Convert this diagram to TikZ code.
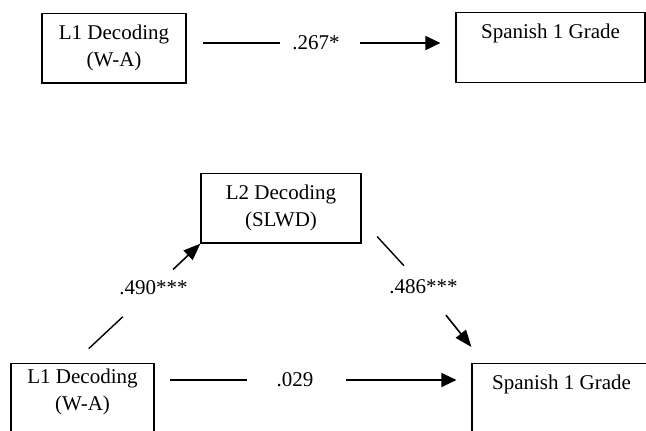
\documentclass[tikz,border=0pt]{standalone}
\usepackage{fontspec}
\setmainfont{Liberation Serif}
\usetikzlibrary{arrows.meta,calc}
\begin{document}
\begin{tikzpicture}[x=1pt,y=-1pt,
  box/.style={draw, line width=1.2pt, anchor=north, inner xsep=0pt, inner ysep=11.7pt, align=center, font=\fontsize{21}{27}\selectfont},
  lab/.style={inner sep=0pt, font=\fontsize{21}{27}\selectfont},
  thinline/.style={line width=1.2pt},
  arr/.style={line width=2pt, -{Triangle[length=15pt,width=14pt]}},
  darr/.style={line width=1.6pt, -{Triangle[length=17pt,width=13pt]}},
  dline/.style={line width=1.4pt}]
\useasboundingbox (0,0) rectangle (646,431);
% top model
\node[box, minimum width=144pt] (t1) at (114,13) {L1 Decoding\\(W-A)};
\node[box, minimum width=189pt] (t2) at (550.5,12) {Spanish 1 Grade\rule[-32pt]{0pt}{32pt}};
\node[lab] (l267) at (316,43) {.267*};
\draw[thinline, shorten <=16pt, shorten >=12pt] (t1.east |- l267) -- (l267.west);
\draw[arr, shorten <=20pt, shorten >=15pt] (l267.east) -- (t2.west |- l267);
% mediation model
\node[box, minimum width=160pt] (m) at (281,173) {L2 Decoding\\(SLWD)};
\node[box, minimum width=143pt, inner ysep=5.7pt] (b1) at (82.5,363) {L1 Decoding\\(W-A)\rule[-40pt]{0pt}{40pt}};
\node[box, minimum width=179pt] (b2) at (561.5,363) {Spanish 1 Grade\rule[-40pt]{0pt}{40pt}};
\node[lab] (l490) at (153.5,288) {.490***};
\node[lab] (l486) at (423.5,287) {.486***};
\node[lab] (l029) at (295,380) {.029};
\draw[dline, shorten <=42pt, shorten >=21pt] (l490.center) -- ($(b1.north west)+(63,0)$);
\draw[darr, shorten <=27pt] (l490.center) -- (m.south west);
\draw[dline, shorten <=29pt, shorten >=23pt] (l486.center) -- ($(m.south east)+(0,-24)$);
\draw[darr, shorten <=36pt] (l486.center) -- ($(b2.north west)+(0,-16)$);
\draw[thinline, shorten <=15pt, shorten >=29pt] (b1.east |- l029) -- (l029.west);
\draw[arr, shorten <=32pt, shorten >=15pt] (l029.east) -- (b2.west |- l029);
\end{tikzpicture}
\end{document}
